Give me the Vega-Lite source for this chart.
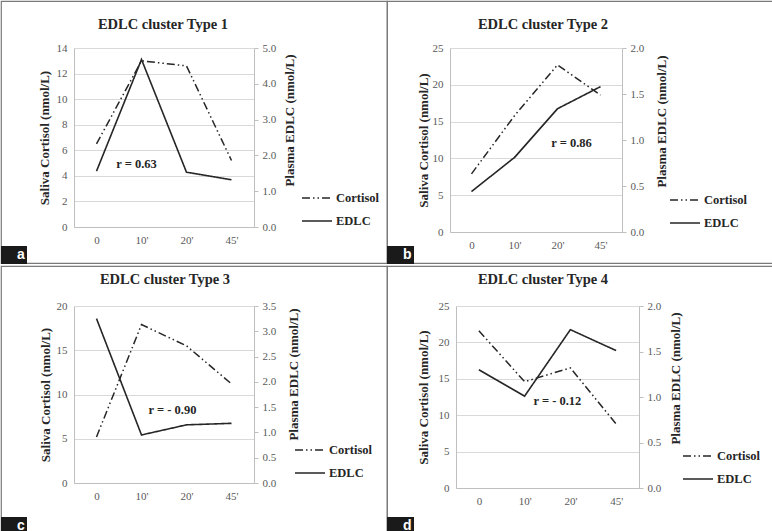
{
  "$schema": "https://vega.github.io/schema/vega-lite/v6.json",
  "padding": 0,
  "background": "white",
  "datasets": {
    "series": [
      {"panel": "a", "time": "0", "cortisol": 6.5, "edlc": 1.56},
      {"panel": "a", "time": "10'", "cortisol": 13.0, "edlc": 4.68},
      {"panel": "a", "time": "20'", "cortisol": 12.6, "edlc": 1.53},
      {"panel": "a", "time": "45'", "cortisol": 5.2, "edlc": 1.32},
      {"panel": "b", "time": "0", "cortisol": 7.9, "edlc": 0.44},
      {"panel": "b", "time": "10'", "cortisol": 15.8, "edlc": 0.81},
      {"panel": "b", "time": "20'", "cortisol": 22.7, "edlc": 1.34},
      {"panel": "b", "time": "45'", "cortisol": 18.6, "edlc": 1.58},
      {"panel": "c", "time": "0", "cortisol": 5.2, "edlc": 3.25},
      {"panel": "c", "time": "10'", "cortisol": 17.9, "edlc": 0.95},
      {"panel": "c", "time": "20'", "cortisol": 15.5, "edlc": 1.15},
      {"panel": "c", "time": "45'", "cortisol": 11.2, "edlc": 1.18},
      {"panel": "d", "time": "0", "cortisol": 21.6, "edlc": 1.30},
      {"panel": "d", "time": "10'", "cortisol": 14.6, "edlc": 1.01},
      {"panel": "d", "time": "20'", "cortisol": 16.5, "edlc": 1.74},
      {"panel": "d", "time": "45'", "cortisol": 8.8, "edlc": 1.51}
    ],
    "notes": [
      {"panel": "a", "time": "10'", "value": 4.93, "label": "r = 0.63"},
      {"panel": "b", "time": "20'", "value": 12.1, "label": "r  = 0.86"},
      {"panel": "c", "time": "20'", "value": 8.28, "label": "r  = - 0.90"},
      {"panel": "d", "time": "20'", "value": 12.0, "label": "r  = - 0.12"}
    ]
  },
  "config": {
    "view": {"stroke": "#7a7a7a", "strokeWidth": 1.2},
    "font": "Liberation Serif",
    "axis": {
      "labelFont": "Liberation Serif", "labelFontSize": 11, "labelColor": "#595959",
      "titleFont": "Liberation Serif", "titleFontSize": 13, "titleFontWeight": "bold", "titleColor": "#262626",
      "domainColor": "#bfbfbf", "gridColor": "#d9d9d9", "tickColor": "#bfbfbf"
    },
    "title": {"font": "Liberation Serif", "fontSize": 14.5, "fontWeight": "bold", "color": "#262626"},
    "legend": {"padding": 0}
  },
  "spacing": 0,
  "resolve": {"scale": {"strokeDash": "independent", "color": "independent"}},
  "vconcat": [
    {
      "spacing": 0,
      "bounds": "flush",
      "resolve": {"scale": {"strokeDash": "independent", "color": "independent"}},
      "hconcat": [
        {
          "width": 386, "height": 262,
          "title": {"text": "EDLC cluster  Type 1", "frame": "group", "anchor": "middle", "dx": -31, "offset": -42, "baseline": "alphabetic"},
          "resolve": {"scale": {"y": "independent"}},
          "layer": [
            {
              "data": {"name": "series"},
              "transform": [{"filter": "datum.panel == 'a'"}],
              "mark": {"type": "line", "color": "#262626", "strokeWidth": 1.5},
              "encoding": {
                "x": {"field": "time", "type": "ordinal", "sort": ["0", "10'", "20'", "45'"], "scale": {"range": [73, 253]},
                      "axis": {"title": null, "labelAngle": 0, "ticks": false, "labelPadding": 7, "offset": -36}},
                "y": {"field": "cortisol", "type": "quantitative", "scale": {"domain": [0, 14], "range": [226, 47]},
                      "axis": {"orient": "left", "offset": -73, "values": [0, 2, 4, 6, 8, 10, 12, 14], "ticks": false, "labelPadding": 7, "grid": true, "title": "Saliva Cortisol (nmol/L)", "titlePadding": 5}},
                "strokeDash": {"datum": "Cortisol", "scale": {"domain": ["Cortisol", "EDLC"], "range": [[8, 3, 1.5, 3, 1.5, 3], [1, 0]]},
                      "legend": {"orient": "none", "legendX": 300, "legendY": 181, "title": null, "symbolType": "stroke", "symbolSize": 900, "symbolStrokeWidth": 1.5, "symbolStrokeColor": "#262626", "labelFont": "Liberation Serif", "labelFontWeight": "bold", "labelFontSize": 12.5, "labelColor": "#262626", "labelOffset": 3, "rowPadding": -12}}
              }
            },
            {
              "data": {"name": "series"},
              "transform": [{"filter": "datum.panel == 'a'"}],
              "mark": {"type": "line", "color": "#262626", "strokeWidth": 1.6},
              "encoding": {
                "x": {"field": "time", "type": "ordinal", "sort": ["0", "10'", "20'", "45'"], "scale": {"range": [73, 253]}},
                "y": {"field": "edlc", "type": "quantitative", "scale": {"domain": [0, 5], "range": [226, 47]},
                      "axis": {"orient": "right", "offset": -133, "values": [0, 1, 2, 3, 4, 5], "format": ".1f", "tickSize": 4, "labelPadding": 4, "grid": false, "title": "Plasma EDLC (nmol/L)", "titleAngle": 270, "titlePadding": 21, "titleY": 119, "titleAlign": "center"}},
                "strokeDash": {"datum": "EDLC"}
              }
            },
            {
              "data": {"name": "notes"},
              "transform": [{"filter": "datum.panel == 'a'"}],
              "mark": {"type": "text", "font": "Liberation Serif", "fontWeight": "bold", "fontSize": 12.5, "dx": -5},
              "encoding": {
                "x": {"field": "time", "type": "ordinal", "sort": ["0", "10'", "20'", "45'"], "scale": {"range": [73, 253]}},
                "y": {"field": "value", "type": "quantitative", "scale": {"domain": [0, 14], "range": [226, 47]}, "axis": null},
                "text": {"field": "label"},
                "color": {"datum": "a", "scale": {"range": ["#262626"]},
                      "legend": {"orient": "none", "legendX": 0, "legendY": 245, "title": null, "fillColor": "#1a1a1a", "padding": 2, "symbolSize": 16, "symbolOpacity": 0, "symbolStrokeWidth": 0, "labelOffset": 0, "labelFont": "Liberation Sans", "labelFontWeight": "bold", "labelFontSize": 14, "labelColor": "white"}}
              }
            }
          ]
        },
        {
          "width": 386, "height": 262,
          "title": {"text": "EDLC cluster Type 2", "frame": "group", "anchor": "middle", "dx": -37, "offset": -42, "baseline": "alphabetic"},
          "resolve": {"scale": {"y": "independent"}},
          "layer": [
            {
              "data": {"name": "series"},
              "transform": [{"filter": "datum.panel == 'b'"}],
              "mark": {"type": "line", "color": "#262626", "strokeWidth": 1.5},
              "encoding": {
                "x": {"field": "time", "type": "ordinal", "sort": ["0", "10'", "20'", "45'"], "scale": {"range": [63, 235]},
                      "axis": {"title": null, "labelAngle": 0, "ticks": false, "labelPadding": 7, "offset": -31}},
                "y": {"field": "cortisol", "type": "quantitative", "scale": {"domain": [0, 25], "range": [231, 47]},
                      "axis": {"orient": "left", "offset": -63, "values": [0, 5, 10, 15, 20, 25], "ticks": false, "labelPadding": 7, "grid": true, "title": "Saliva Cortisol  (nmol/L)", "titlePadding": 2}},
                "strokeDash": {"datum": "Cortisol", "scale": {"domain": ["Cortisol", "EDLC"], "range": [[8, 3, 1.5, 3, 1.5, 3], [1, 0]]},
                      "legend": {"orient": "none", "legendX": 282, "legendY": 183, "title": null, "symbolType": "stroke", "symbolSize": 900, "symbolStrokeWidth": 1.5, "symbolStrokeColor": "#262626", "labelFont": "Liberation Serif", "labelFontWeight": "bold", "labelFontSize": 12.5, "labelColor": "#262626", "labelOffset": 3, "rowPadding": -11}}
              }
            },
            {
              "data": {"name": "series"},
              "transform": [{"filter": "datum.panel == 'b'"}],
              "mark": {"type": "line", "color": "#262626", "strokeWidth": 1.6},
              "encoding": {
                "x": {"field": "time", "type": "ordinal", "sort": ["0", "10'", "20'", "45'"], "scale": {"range": [63, 235]}},
                "y": {"field": "edlc", "type": "quantitative", "scale": {"domain": [0, 2], "range": [231, 47]},
                      "axis": {"orient": "right", "offset": -151, "values": [0, 0.5, 1, 1.5, 2], "format": ".1f", "tickSize": 4, "labelPadding": 4, "grid": false, "title": "Plasma EDLC (nmol/L)", "titleAngle": 270, "titlePadding": 25, "titleY": 120, "titleAlign": "center"}},
                "strokeDash": {"datum": "EDLC"}
              }
            },
            {
              "data": {"name": "notes"},
              "transform": [{"filter": "datum.panel == 'b'"}],
              "mark": {"type": "text", "font": "Liberation Serif", "fontWeight": "bold", "fontSize": 12.5, "dx": 14},
              "encoding": {
                "x": {"field": "time", "type": "ordinal", "sort": ["0", "10'", "20'", "45'"], "scale": {"range": [63, 235]}},
                "y": {"field": "value", "type": "quantitative", "scale": {"domain": [0, 25], "range": [231, 47]}, "axis": null},
                "text": {"field": "label"},
                "color": {"datum": "b", "scale": {"range": ["#262626"]},
                      "legend": {"orient": "none", "legendX": 0, "legendY": 245, "title": null, "fillColor": "#1a1a1a", "padding": 2, "symbolSize": 16, "symbolOpacity": 0, "symbolStrokeWidth": 0, "labelOffset": 0, "labelFont": "Liberation Sans", "labelFontWeight": "bold", "labelFontSize": 14, "labelColor": "white"}}
              }
            }
          ]
        }
      ]
    },
    {
      "spacing": 0,
      "bounds": "flush",
      "resolve": {"scale": {"strokeDash": "independent", "color": "independent"}},
      "hconcat": [
        {
          "width": 386, "height": 269,
          "title": {"text": "EDLC cluster Type 3", "frame": "group", "anchor": "middle", "dx": -29, "offset": -32, "baseline": "alphabetic"},
          "resolve": {"scale": {"y": "independent"}},
          "layer": [
            {
              "data": {"name": "series"},
              "transform": [{"filter": "datum.panel == 'c'"}],
              "mark": {"type": "line", "color": "#262626", "strokeWidth": 1.5},
              "encoding": {
                "x": {"field": "time", "type": "ordinal", "sort": ["0", "10'", "20'", "45'"], "scale": {"range": [73, 253]},
                      "axis": {"title": null, "labelAngle": 0, "ticks": false, "labelPadding": 7, "offset": -52}},
                "y": {"field": "cortisol", "type": "quantitative", "scale": {"domain": [0, 20], "range": [217, 40]},
                      "axis": {"orient": "left", "offset": -73, "values": [0, 5, 10, 15, 20], "ticks": false, "labelPadding": 7, "grid": true, "title": "Saliva Cortisol (nmol/L)", "titlePadding": 4}},
                "strokeDash": {"datum": "Cortisol", "scale": {"domain": ["Cortisol", "EDLC"], "range": [[8, 3, 1.5, 3, 1.5, 3], [1, 0]]},
                      "legend": {"orient": "none", "legendX": 293, "legendY": 168, "title": null, "symbolType": "stroke", "symbolSize": 900, "symbolStrokeWidth": 1.5, "symbolStrokeColor": "#262626", "labelFont": "Liberation Serif", "labelFontWeight": "bold", "labelFontSize": 12.5, "labelColor": "#262626", "labelOffset": 3, "rowPadding": -11}}
              }
            },
            {
              "data": {"name": "series"},
              "transform": [{"filter": "datum.panel == 'c'"}],
              "mark": {"type": "line", "color": "#262626", "strokeWidth": 1.6},
              "encoding": {
                "x": {"field": "time", "type": "ordinal", "sort": ["0", "10'", "20'", "45'"], "scale": {"range": [73, 253]}},
                "y": {"field": "edlc", "type": "quantitative", "scale": {"domain": [0, 3.5], "range": [217, 40]},
                      "axis": {"orient": "right", "offset": -133, "values": [0, 0.5, 1, 1.5, 2, 2.5, 3, 3.5], "format": ".1f", "tickSize": 4, "labelPadding": 4, "grid": false, "title": "Plasma EDLC (nmol/L)", "titleAngle": 270, "titlePadding": 25, "titleY": 108, "titleAlign": "center"}},
                "strokeDash": {"datum": "EDLC"}
              }
            },
            {
              "data": {"name": "notes"},
              "transform": [{"filter": "datum.panel == 'c'"}],
              "mark": {"type": "text", "font": "Liberation Serif", "fontWeight": "bold", "fontSize": 12.5, "dx": -14},
              "encoding": {
                "x": {"field": "time", "type": "ordinal", "sort": ["0", "10'", "20'", "45'"], "scale": {"range": [73, 253]}},
                "y": {"field": "value", "type": "quantitative", "scale": {"domain": [0, 20], "range": [217, 40]}, "axis": null},
                "text": {"field": "label"},
                "color": {"datum": "c", "scale": {"range": ["#262626"]},
                      "legend": {"orient": "none", "legendX": 0, "legendY": 251, "title": null, "fillColor": "#1a1a1a", "padding": 2, "symbolSize": 16, "symbolOpacity": 0, "symbolStrokeWidth": 0, "labelOffset": 0, "labelFont": "Liberation Sans", "labelFontWeight": "bold", "labelFontSize": 14, "labelColor": "white"}}
              }
            }
          ]
        },
        {
          "width": 386, "height": 269,
          "title": {"text": "EDLC cluster Type 4", "frame": "group", "anchor": "middle", "dx": -37, "offset": -32, "baseline": "alphabetic"},
          "resolve": {"scale": {"y": "independent"}},
          "layer": [
            {
              "data": {"name": "series"},
              "transform": [{"filter": "datum.panel == 'd'"}],
              "mark": {"type": "line", "color": "#262626", "strokeWidth": 1.5},
              "encoding": {
                "x": {"field": "time", "type": "ordinal", "sort": ["0", "10'", "20'", "45'"], "scale": {"range": [69, 252]},
                      "axis": {"title": null, "labelAngle": 0, "ticks": false, "labelPadding": 7, "offset": -47}},
                "y": {"field": "cortisol", "type": "quantitative", "scale": {"domain": [0, 25], "range": [222, 40]},
                      "axis": {"orient": "left", "offset": -69, "values": [0, 5, 10, 15, 20, 25], "ticks": false, "labelPadding": 7, "grid": true, "title": "Saliva Cortisol (nmol/L)", "titlePadding": 8}},
                "strokeDash": {"datum": "Cortisol", "scale": {"domain": ["Cortisol", "EDLC"], "range": [[8, 3, 1.5, 3, 1.5, 3], [1, 0]]},
                      "legend": {"orient": "none", "legendX": 295, "legendY": 174, "title": null, "symbolType": "stroke", "symbolSize": 900, "symbolStrokeWidth": 1.5, "symbolStrokeColor": "#262626", "labelFont": "Liberation Serif", "labelFontWeight": "bold", "labelFontSize": 12.5, "labelColor": "#262626", "labelOffset": 3, "rowPadding": -11}}
              }
            },
            {
              "data": {"name": "series"},
              "transform": [{"filter": "datum.panel == 'd'"}],
              "mark": {"type": "line", "color": "#262626", "strokeWidth": 1.6},
              "encoding": {
                "x": {"field": "time", "type": "ordinal", "sort": ["0", "10'", "20'", "45'"], "scale": {"range": [69, 252]}},
                "y": {"field": "edlc", "type": "quantitative", "scale": {"domain": [0, 2], "range": [222, 40]},
                      "axis": {"orient": "right", "offset": -134, "values": [0, 0.5, 1, 1.5, 2], "format": ".1f", "tickSize": 4, "labelPadding": 4, "grid": false, "title": "Plasma EDLC (nmol/L)", "titleAngle": 270, "titlePadding": 22, "titleY": 112, "titleAlign": "center"}},
                "strokeDash": {"datum": "EDLC"}
              }
            },
            {
              "data": {"name": "notes"},
              "transform": [{"filter": "datum.panel == 'd'"}],
              "mark": {"type": "text", "font": "Liberation Serif", "fontWeight": "bold", "fontSize": 12.5, "dx": -13},
              "encoding": {
                "x": {"field": "time", "type": "ordinal", "sort": ["0", "10'", "20'", "45'"], "scale": {"range": [69, 252]}},
                "y": {"field": "value", "type": "quantitative", "scale": {"domain": [0, 25], "range": [222, 40]}, "axis": null},
                "text": {"field": "label"},
                "color": {"datum": "d", "scale": {"range": ["#262626"]},
                      "legend": {"orient": "none", "legendX": 0, "legendY": 251, "title": null, "fillColor": "#1a1a1a", "padding": 2, "symbolSize": 16, "symbolOpacity": 0, "symbolStrokeWidth": 0, "labelOffset": 0, "labelFont": "Liberation Sans", "labelFontWeight": "bold", "labelFontSize": 14, "labelColor": "white"}}
              }
            }
          ]
        }
      ]
    }
  ]
}
